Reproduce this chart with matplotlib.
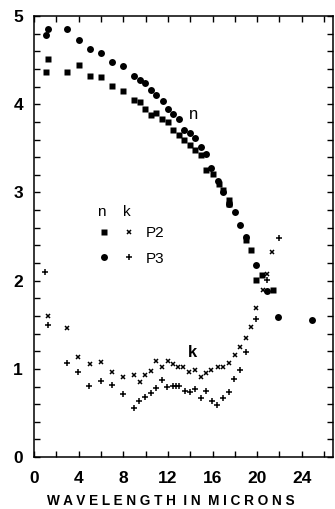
import numpy as np
import matplotlib
matplotlib.use("Agg")
import matplotlib.pyplot as plt
from matplotlib.legend_handler import HandlerTuple

plt.rcParams['font.family'] = ['Liberation Sans', 'DejaVu Sans']

# refractive index n, sample P2 (squares)
n_p2_wl = [1.05, 1.25, 3.0, 4.03, 5.0, 6.0, 7.0, 8.0, 8.98, 9.49, 9.96, 10.47,
           10.98, 11.49, 11.97, 12.47, 12.98, 13.46, 13.97, 14.47, 15.0, 15.4,
           16.0, 16.6, 16.95, 17.5, 17.5, 18.98, 19.45, 19.94, 20.45, 21.45]
n_p2 = [4.36, 4.51, 4.37, 4.44, 4.32, 4.31, 4.21, 4.15, 4.05, 4.03, 3.95, 3.88,
        3.90, 3.83, 3.80, 3.71, 3.65, 3.59, 3.54, 3.48, 3.42, 3.26,
        3.21, 3.10, 3.03, 2.92, 2.87, 2.46, 2.35, 2.01, 2.06, 1.89]

# refractive index n, sample P3 (circles)
n_p3_wl = [1.05, 1.22, 3.0, 4.0, 5.0, 5.97, 6.98, 8.0, 8.98, 9.49, 9.96, 10.47,
           10.98, 11.52, 12.02, 12.47, 12.98, 13.46, 13.97, 14.47, 15.0, 15.46,
           15.9, 16.5, 16.95, 17.5, 18.0, 18.5, 18.98, 19.93, 20.9, 21.9, 24.95]
n_p3 = [4.78, 4.85, 4.85, 4.73, 4.63, 4.58, 4.48, 4.43, 4.32, 4.28, 4.24, 4.16,
        4.10, 4.04, 3.95, 3.89, 3.83, 3.71, 3.67, 3.62, 3.52, 3.44,
        3.28, 3.13, 3.00, 2.87, 2.78, 2.63, 2.50, 2.18, 1.88, 1.59, 1.55]

# extinction coefficient k, sample P2 (x)
k_p2_wl = [1.22, 2.95, 3.95, 4.98, 5.97, 6.98, 7.94, 8.95, 9.49, 9.94, 10.5,
           10.98, 11.45, 11.97, 12.45, 12.95, 13.4, 13.9, 14.45, 14.95, 15.45,
           15.9, 16.45, 16.95, 17.45, 18.0, 18.5, 18.98, 19.45, 19.94, 20.5,
           20.9, 21.3]
k_p2 = [1.60, 1.46, 1.14, 1.06, 1.08, 0.96, 0.91, 0.93, 0.85, 0.93, 0.98,
        1.09, 1.02, 1.09, 1.06, 1.02, 1.02, 0.96, 0.99, 0.91, 0.95,
        0.99, 1.02, 1.02, 1.07, 1.16, 1.25, 1.35, 1.47, 1.69, 1.89,
        2.07, 2.33]

# extinction coefficient k, sample P3 (+)
k_p3_wl = [0.98, 1.28, 2.95, 3.97, 4.96, 5.97, 6.98, 7.94, 8.95, 9.43, 9.94,
           10.47, 10.98, 11.45, 11.93, 12.45, 12.71, 12.98, 13.5, 13.97, 14.47,
           14.95, 15.46, 15.96, 16.41, 16.95, 17.46, 17.95, 18.44, 18.98, 19.94,
           20.9, 21.96]
k_p3 = [2.10, 1.50, 1.07, 0.97, 0.81, 0.86, 0.82, 0.72, 0.56, 0.64, 0.68,
        0.73, 0.78, 0.87, 0.80, 0.81, 0.81, 0.81, 0.75, 0.74, 0.77,
        0.67, 0.75, 0.64, 0.59, 0.67, 0.74, 0.89, 0.99, 1.19, 1.56,
        2.01, 2.48]

fig = plt.figure(figsize=(3.35, 5.09), dpi=100)
ax = fig.add_axes([0.1015, 0.102, 0.8925, 0.8665])

sq, = ax.plot(n_p2_wl, n_p2, 's', color='black', ms=4.2, mec='none')
ci, = ax.plot(n_p3_wl, n_p3, 'o', color='black', ms=5.0, mec='none')
xx, = ax.plot(k_p2_wl, k_p2, 'x', color='black', ms=3.2, mew=1.1)
pl, = ax.plot(k_p3_wl, k_p3, '+', color='black', ms=3.8, mew=1.1)

# curve labels
ax.text(14.3, 3.88, 'n', fontsize=12, ha='center', va='center')
ax.text(14.2, 1.18, 'k', fontsize=12, fontweight='bold', ha='center', va='center')

# legend column headers
ax.text(6.0, 2.78, 'n', fontsize=11, ha='center', va='center')
ax.text(8.3, 2.78, 'k', fontsize=11, ha='center', va='center')

leg = ax.legend([(sq, xx), (ci, pl)], ['P2', 'P3'],
                handler_map={tuple: HandlerTuple(ndivide=None, pad=0.0)},
                fontsize=11, handlelength=3.3, handletextpad=0.3,
                labelspacing=0.75, frameon=False, loc='upper left',
                bbox_to_anchor=(0.17, 0.537), borderaxespad=0)

ax.set_xlim(0, 26.8)
ax.set_ylim(0, 5)
ax.set_xticks(np.arange(0, 25, 4))
ax.set_xticks(np.arange(2, 27, 4), minor=True)
ax.set_yticks(np.arange(0, 6, 1))
ax.set_yticks(np.arange(0, 5.01, 0.2), minor=True)
ax.tick_params(which='both', direction='in', top=True, right=True,
               length=4, width=1.0)
ax.tick_params(axis='y', labelsize=12.5, pad=8)
ax.tick_params(axis='x', labelsize=12.5, pad=10)
for lab in ax.get_xticklabels() + ax.get_yticklabels():
    lab.set_fontweight('bold')
for s in ax.spines.values():
    s.set_linewidth(1.1)

ax.set_xlabel('W A V E L E N G T H  I N  M I C R O N S', fontsize=9.8,
              fontweight='bold')
ax.xaxis.set_label_coords(0.458, -0.084)

fig.savefig('out.png', dpi=100)
